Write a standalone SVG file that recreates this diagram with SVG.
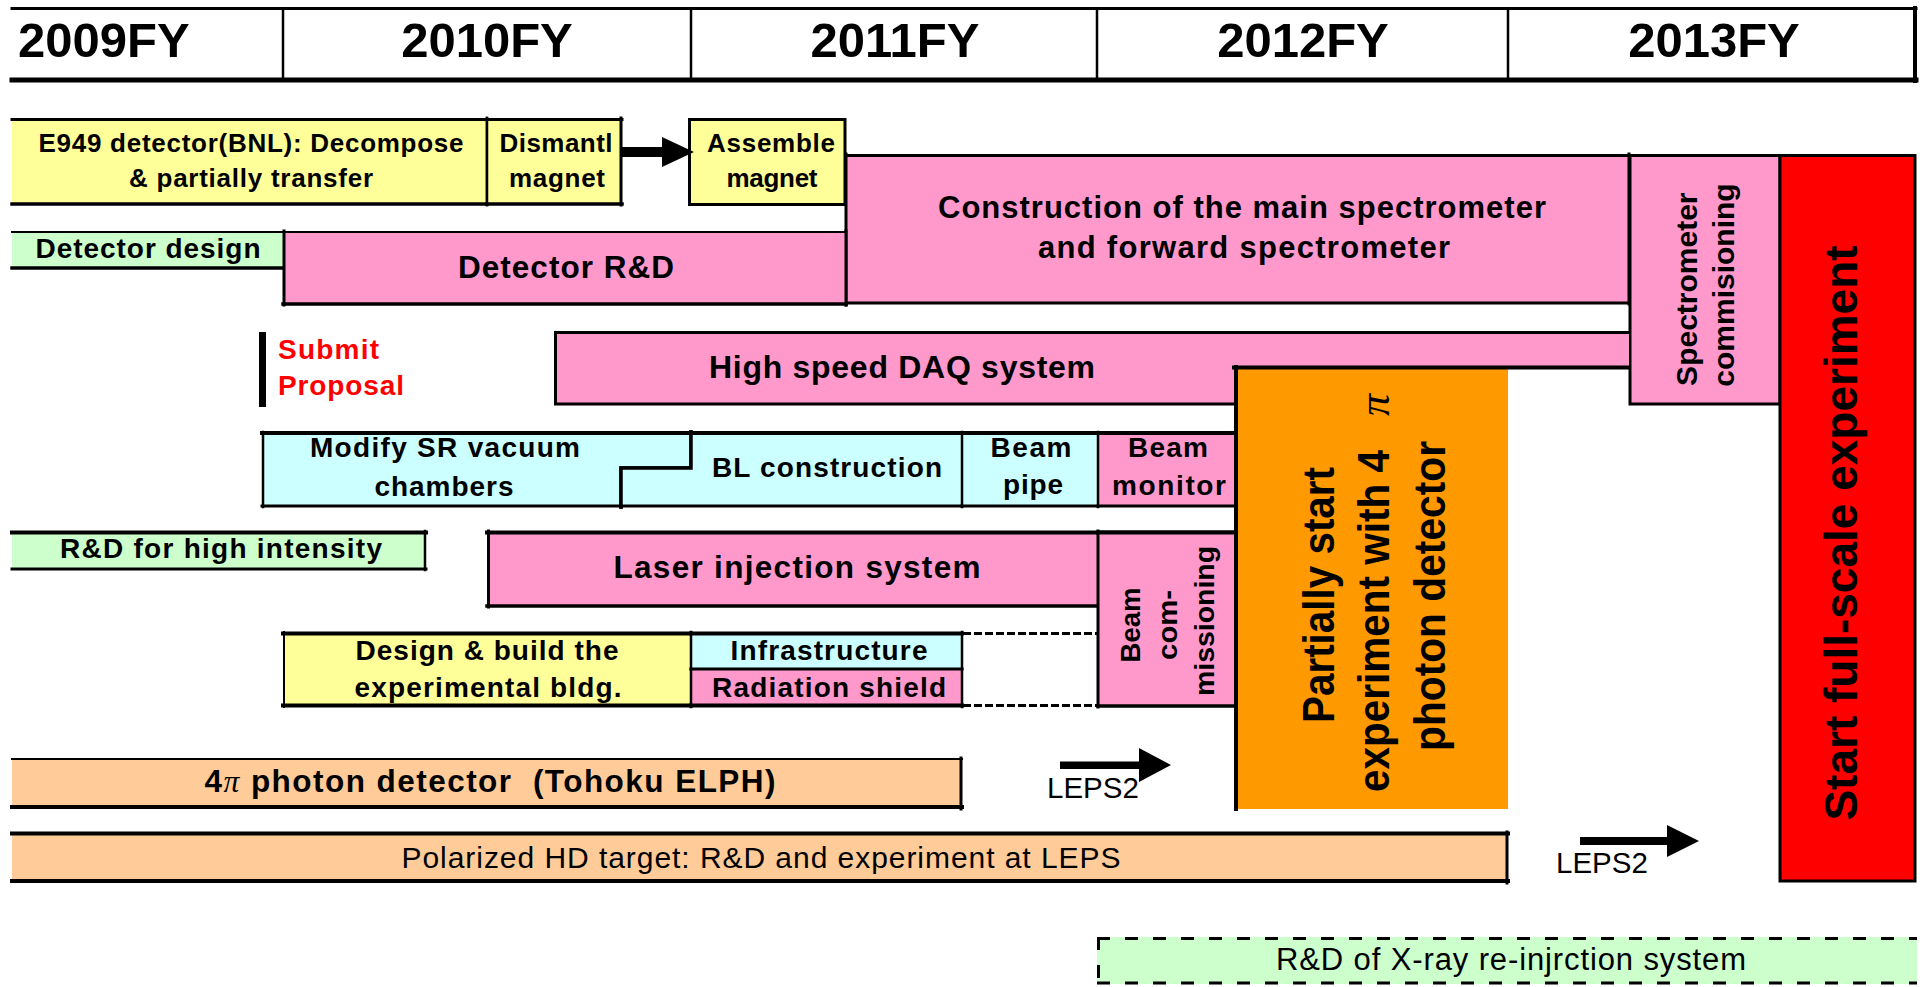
<svg xmlns="http://www.w3.org/2000/svg" width="1927" height="987" viewBox="0 0 1927 987">
<style>
  .t { font-family: "Liberation Sans", Arial, sans-serif; fill: #000; }
  .b { font-weight: bold; }
  .m { text-anchor: middle; }
  .red { fill: #FF0000; }
  .pi { font-family: "Liberation Serif", "Times New Roman", serif; font-style: italic; font-weight: normal; }
  .ln { stroke: #000; fill: none; stroke-linecap: square; }
  .s2 { stroke-width: 2; }
  .s25 { stroke-width: 2.5; }
  .s3 { stroke-width: 3; }
  .s35 { stroke-width: 3.5; }
  .s4 { stroke-width: 4; }
  .s5 { stroke-width: 5; }
  .dash { stroke-dasharray: 8 3; stroke-linecap: butt; }
  .dash2 { stroke-dasharray: 13 15; stroke-linecap: butt; }
  .yel { fill: #FFFF99; }
  .grn { fill: #CCFFCC; }
  .pnk { fill: #FF99CC; }
  .cyn { fill: #CCFFFF; }
  .pch { fill: #FFCC99; }
  .org { fill: #FF9900; }
  .rd { fill: #FF0000; }
</style>

<rect width="1927" height="987" fill="#FFFFFF"/>

<!-- fiscal year header -->
<g id="header">
  <path class="ln s3" d="M12 8.5 H1916"/>
  <path class="ln s5" d="M12 80 H1916"/>
  <path class="ln s4" d="M1915 8 V81"/>
  <path class="ln s25" d="M283 9 V79 M691 9 V79 M1097 9 V79 M1508 9 V79"/>
  <text class="t b" x="18" y="57" font-size="49">2009FY</text>
  <text class="t b m" x="487" y="57" font-size="49">2010FY</text>
  <text class="t b m" x="895" y="57" font-size="49">2011FY</text>
  <text class="t b m" x="1303" y="57" font-size="49">2012FY</text>
  <text class="t b m" x="1714" y="57" font-size="49">2013FY</text>
</g>

<g id="e949">
  <rect class="yel" x="12" y="118" width="475" height="87"/>
  <path class="ln s3" d="M12 119.5 H487"/>
  <path class="ln s35" d="M12 204 H487"/>
  <path class="ln s25" d="M487 118 V205"/>
  <text class="t b m" x="251" y="152" font-size="26" textLength="425">E949 detector(BNL): Decompose</text>
  <text class="t b m" x="251" y="187" font-size="26" textLength="244">&amp; partially transfer</text>
</g>

<g id="dismantle">
  <rect class="yel" x="487" y="118" width="135" height="87"/>
  <path class="ln s3" d="M487 119.5 H622 M621 118 V205"/>
  <path class="ln s35" d="M487 204 H622"/>
  <path class="ln s25" d="M487 118 V205"/>
  <text class="t b m" x="556" y="152" font-size="26" textLength="113">Dismantl</text>
  <text class="t b m" x="557" y="187" font-size="26" textLength="96">magnet</text>
</g>

<g id="assemble">
  <rect class="yel" x="688" y="118" width="158" height="88"/>
  <rect class="ln s3" x="689.5" y="119.5" width="155.5" height="85"/>
  <text class="t b m" x="771" y="152" font-size="26" textLength="128">Assemble</text>
  <text class="t b m" x="772" y="187" font-size="26" textLength="91">magnet</text>
</g>

<g id="construction">
  <rect class="pnk" x="846" y="154" width="783" height="150"/>
  <path class="ln s3" d="M846 155.5 H1629 M846 303 H1629 M1629 154 V304"/>
  <path class="ln s3" d="M846 154 V305"/>
  <text class="t b m" x="1242" y="218" font-size="31" textLength="608">Construction of the main spectrometer</text>
  <text class="t b m" x="1244" y="258" font-size="31" textLength="412">and forward spectrometer</text>
</g>

<g id="detector-design">
  <rect class="grn" x="12" y="231" width="271" height="38"/>
  <path class="ln s2" d="M12 232 H283"/>
  <path class="ln s35" d="M12 268 H283"/>
  <text class="t b m" x="148" y="258" font-size="28" textLength="225">Detector design</text>
</g>

<g id="detector-rd">
  <rect class="pnk" x="283" y="231" width="563" height="74"/>
  <path class="ln s2" d="M283 232 H846"/>
  <path class="ln s3" d="M284 231 V305 M846 231 V305"/>
  <path class="ln s35" d="M283 304 H846"/>
  <text class="t b m" x="566" y="278" font-size="31.5" textLength="216">Detector R&amp;D</text>
</g>

<g id="spectrometer-commissioning">
  <rect class="pnk" x="1629" y="154" width="151" height="251"/>
  <rect class="ln s3" x="1630" y="155.5" width="150" height="248.5"/>
  <text class="t b m" font-size="30" transform="translate(1697 285) rotate(-90)">
    <tspan x="0" y="0">Spectrometer</tspan>
    <tspan x="0" y="37">commisioning</tspan>
  </text>
</g>

<g id="start-full-scale">
  <rect class="rd" x="1780" y="154" width="135" height="728"/>
  <rect class="ln s3" x="1780" y="155.5" width="135" height="725.5"/>
  <text class="t b m" font-size="46" transform="translate(1857 533) rotate(-90)">Start full-scale experiment</text>
</g>

<g id="submit-proposal">
  <rect x="259" y="332" width="7" height="75" fill="#000"/>
  <text class="t b red" x="278" y="359" font-size="28" textLength="101">Submit</text>
  <text class="t b red" x="278" y="395" font-size="28" textLength="126">Proposal</text>
</g>

<g id="daq">
  <path class="pnk" d="M554 331 H1629 V367 H1234 V405 H554 Z"/>
  <path class="ln s3" d="M1629 332.5 H555.5 V404 H1234"/>
  <text class="t b m" x="902" y="378" font-size="32" textLength="386">High speed DAQ system</text>
</g>

<g id="partial-start">
  <rect class="org" x="1234" y="367" width="274" height="442"/>
  <path class="ln s4" d="M1234 367.5 H1629"/>
  <path class="ln s4" d="M1236 367 V809"/>
  <text class="t b m" font-size="45" textLength="256" lengthAdjust="spacingAndGlyphs" transform="translate(1334 595) rotate(-90)">Partially start</text>
  <text class="t b m" font-size="45" textLength="342" lengthAdjust="spacingAndGlyphs" transform="translate(1389 621) rotate(-90)">experiment with 4</text>
  <text class="t pi m" font-size="44" transform="translate(1389 405) rotate(-90)">π</text>
  <text class="t b m" font-size="45" textLength="310" lengthAdjust="spacingAndGlyphs" transform="translate(1445 596) rotate(-90)">photon detector</text>
</g>

<g id="modify-sr">
  <path class="cyn" d="M262 432 H691 V468 H621 V507 H262 Z"/>
  <path class="ln s4" d="M262 433 H691"/>
  <path class="ln s3" d="M262 506 H621"/>
  <path class="ln s25" d="M263 432 V507"/>
  <path class="ln s35" d="M691 432 V468 H621 V507"/>
  <text class="t b m" x="445" y="457" font-size="28" textLength="270">Modify SR vacuum</text>
  <text class="t b m" x="444" y="496" font-size="28" textLength="139">chambers</text>
</g>

<g id="bl-construction">
  <path class="cyn" d="M691 432 H962 V507 H621 V468 H691 Z"/>
  <path class="ln s4" d="M691 433 H962"/>
  <path class="ln s3" d="M621 506 H962"/>
  <path class="ln s35" d="M691 432 V468 H621 V507"/>
  <text class="t b m" x="827" y="477" font-size="28" textLength="230">BL construction</text>
</g>

<g id="beam-pipe">
  <rect class="cyn" x="962" y="432" width="136" height="75"/>
  <path class="ln s4" d="M962 433 H1098"/>
  <path class="ln s3" d="M962 506 H1098"/>
  <path class="ln s25" d="M962 432 V507"/>
  <text class="t b m" x="1031" y="457" font-size="28" textLength="81">Beam</text>
  <text class="t b m" x="1033" y="494" font-size="28" textLength="60">pipe</text>
</g>

<g id="beam-monitor">
  <rect class="pnk" x="1098" y="432" width="136" height="75"/>
  <path class="ln s4" d="M1098 433 H1236"/>
  <path class="ln s3" d="M1098 506 H1236"/>
  <path class="ln s25" d="M1098 432 V507"/>
  <text class="t b m" x="1168" y="457" font-size="28" textLength="80">Beam</text>
  <text class="t b m" x="1169" y="495" font-size="28" textLength="114">monitor</text>
</g>

<g id="rd-high-intensity">
  <rect class="grn" x="12" y="531" width="414" height="39"/>
  <path class="ln s4" d="M12 532.5 H426"/>
  <path class="ln s3" d="M12 569 H426"/>
  <path class="ln s25" d="M425 531 V570"/>
  <text class="t b m" x="221" y="558" font-size="28" textLength="322">R&amp;D for high intensity</text>
</g>

<g id="laser-injection">
  <rect class="pnk" x="487" y="531" width="611" height="76"/>
  <path class="ln s4" d="M487 532.5 H1236"/>
  <path class="ln s3" d="M488.5 531 V607"/>
  <path class="ln s35" d="M487 606 H1098"/>
  <text class="t b m" x="797" y="578" font-size="31.5" textLength="367">Laser injection system</text>
</g>

<g id="beam-commissioning">
  <rect class="pnk" x="1098" y="534" width="136" height="173"/>
  <path class="ln s4" d="M1098 532.5 H1236"/>
  <path class="ln s3" d="M1098 531 V707"/>
  <path class="ln s35" d="M1098 706 H1236"/>
  <text class="t b m" font-size="28" transform="translate(1140 621) rotate(-90)">
    <tspan x="0" y="0" textLength="75" lengthAdjust="spacingAndGlyphs">Beam</tspan>
    <tspan x="0" y="37" textLength="70" lengthAdjust="spacingAndGlyphs">com-</tspan>
    <tspan x="0" y="74" textLength="150" lengthAdjust="spacingAndGlyphs">missioning</tspan>
  </text>
</g>

<g id="design-building">
  <rect class="yel" x="283" y="632" width="408" height="75"/>
  <path class="ln s4" d="M283 633.5 H691 M283 705.5 H691"/>
  <path class="ln s2" d="M284 632 V707"/>
  <text class="t b m" x="487" y="660" font-size="28" textLength="263">Design &amp; build the</text>
  <text class="t b m" x="488" y="697" font-size="28" textLength="267">experimental bldg.</text>
</g>

<g id="infrastructure">
  <rect class="cyn" x="691" y="632" width="271" height="37"/>
  <path class="ln s4" d="M691 633.5 H962"/>
  <path class="ln s25" d="M691 632 V669 M962 632 V669"/>
  <text class="t b m" x="829" y="660" font-size="28" textLength="197">Infrastructure</text>
</g>

<g id="radiation-shield">
  <rect class="pnk" x="691" y="669" width="271" height="38"/>
  <path class="ln s3" d="M691 669 H962"/>
  <path class="ln s4" d="M691 705.5 H962"/>
  <path class="ln s25" d="M691 669 V707 M962 669 V707"/>
  <text class="t b m" x="829" y="697" font-size="28" textLength="234">Radiation shield</text>
</g>

<g id="open-slot">
  <path class="ln s3 dash" d="M963 633.5 H1098 M963 705.5 H1098"/>
</g>

<g id="photon-detector">
  <rect class="pch" x="12" y="758" width="950" height="50"/>
  <path class="ln s2" d="M12 759 H962"/>
  <path class="ln s4" d="M12 807 H962"/>
  <path class="ln s3" d="M961 758 V809"/>
  <text class="t b m" x="490" y="792" font-size="31.5" textLength="571">4<tspan class="pi">π</tspan> photon detector &#160;(Tohoku ELPH)</text>
</g>

<g id="polarized-hd">
  <rect class="pch" x="12" y="832" width="1496" height="50"/>
  <path class="ln s4" d="M12 833.5 H1508 M12 881 H1508"/>
  <path class="ln s3" d="M1507 832 V883"/>
  <text class="t m" x="761" y="868" font-size="30" textLength="719">Polarized HD target: R&amp;D and experiment at LEPS</text>
</g>

<g id="xray-reinjection">
  <rect class="grn" x="1097" y="937" width="820" height="47"/>
  <path class="ln s3 dash2" d="M1097 938.5 H1917 M1097 983 H1917 M1098.5 937 V984"/>
  <text class="t m" x="1511" y="970" font-size="31" textLength="470">R&amp;D of X-ray re-injrction system</text>
</g>

<!-- arrows between stages -->
<g id="connectors">
  <polygon points="622,147 662,147 662,137 694,152 662,167 662,157 622,157" fill="#000"/>
  <polygon points="1060,761.5 1139,761.5 1139,748 1171,765 1139,782 1139,769 1060,769" fill="#000"/>
  <text class="t" x="1047" y="798" font-size="29.5">LEPS2</text>
  <polygon points="1580,837 1667,837 1667,825 1699,841 1667,857 1667,845 1580,845" fill="#000"/>
  <text class="t" x="1556" y="873" font-size="29.5">LEPS2</text>
</g>
</svg>
